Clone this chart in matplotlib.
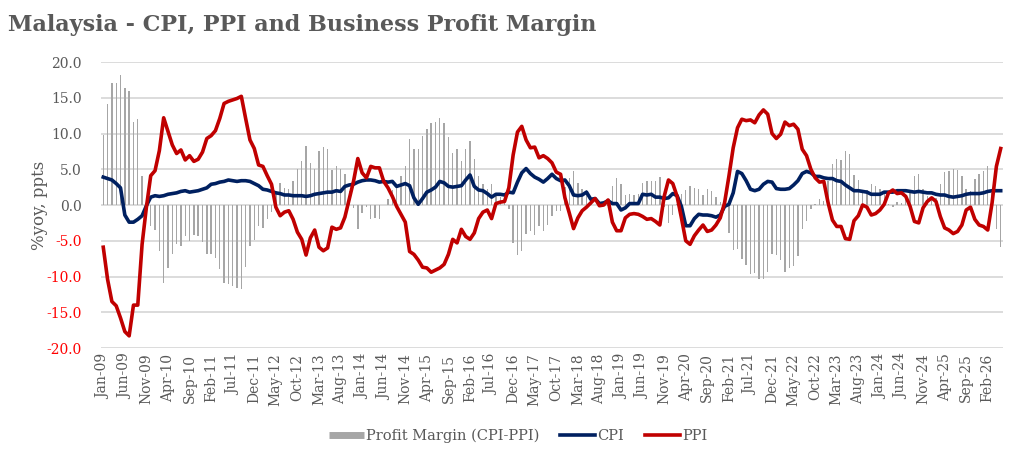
import numpy as np
import pandas as pd
import matplotlib
matplotlib.use("Agg")
import matplotlib.pyplot as plt
from matplotlib.lines import Line2D

plt.rcParams['font.family'] = ['DejaVu Serif']

# monthly, Jan-09 .. May-26
months = pd.date_range('2009-01-01', periods=209, freq='MS').strftime('%b-%y').tolist()

cpi = [3.9, 3.7, 3.5, 3.0, 2.4, -1.4, -2.4, -2.4, -2.0, -1.5, -0.1, 1.1,
       1.3, 1.2, 1.3, 1.5, 1.6, 1.7, 1.9, 2.0, 1.8, 1.9, 2.0, 2.2,
       2.4, 2.9, 3.0, 3.2, 3.3, 3.5, 3.4, 3.3, 3.4, 3.4, 3.3, 3.0,
       2.7, 2.2, 2.1, 1.9, 1.7, 1.6, 1.4, 1.4, 1.3, 1.3, 1.3, 1.2,
       1.3, 1.5, 1.6, 1.7, 1.8, 1.8, 2.0, 1.9, 2.6, 2.8, 2.9, 3.2,
       3.4, 3.5, 3.5, 3.4, 3.2, 3.3, 3.2, 3.3, 2.6, 2.8, 3.0, 2.7,
       1.0, 0.1, 0.9, 1.8, 2.1, 2.5, 3.3, 3.1, 2.6, 2.5, 2.6, 2.7,
       3.5, 4.2, 2.6, 2.1, 2.0, 1.6, 1.1, 1.5, 1.5, 1.4, 1.8, 1.7,
       3.2, 4.5, 5.1, 4.4, 3.9, 3.6, 3.2, 3.7, 4.3, 3.7, 3.4, 3.5,
       2.7, 1.4, 1.3, 1.4, 1.8, 0.8, 0.9, 0.2, 0.3, 0.6, 0.2, 0.2,
       -0.7, -0.4, 0.2, 0.2, 0.2, 1.5, 1.4, 1.5, 1.1, 1.1, 0.9, 1.0,
       1.6, 1.3, -0.2, -2.9, -2.9, -1.9, -1.3, -1.4, -1.4, -1.5, -1.7, -1.4,
       -0.2, 0.1, 1.7, 4.7, 4.4, 3.4, 2.2, 2.0, 2.2, 2.9, 3.3, 3.2,
       2.3, 2.2, 2.2, 2.3, 2.8, 3.4, 4.4, 4.7, 4.5, 4.0, 4.0, 3.8,
       3.7, 3.7, 3.4, 3.3, 2.8, 2.4, 2.0, 2.0, 1.9, 1.8, 1.5, 1.5,
       1.5, 1.8, 1.8, 1.8, 2.0, 2.0, 2.0, 1.9, 1.8, 1.9, 1.8, 1.7,
       1.7, 1.5, 1.4, 1.4, 1.2, 1.1, 1.2, 1.3, 1.5, 1.6, 1.6, 1.6,
       1.7, 1.9, 2.0, 2.0, 2.0]

ppi = [-5.9, -10.4, -13.5, -14.1, -15.8, -17.7, -18.3, -14.0, -14.0, -5.5, -0.3, 4.1,
       4.8, 7.6, 12.2, 10.3, 8.4, 7.2, 7.7, 6.3, 6.9, 6.1, 6.4, 7.4,
       9.3, 9.7, 10.4, 12.1, 14.2, 14.5, 14.7, 14.9, 15.2, 12.1, 9.1, 7.9,
       5.6, 5.4, 4.1, 2.9, -0.3, -1.5, -1.0, -0.8, -2.0, -3.8, -4.8, -7.0,
       -4.6, -3.5, -5.9, -6.4, -6.0, -3.1, -3.4, -3.2, -1.7, 0.8, 3.3, 6.5,
       4.5, 3.8, 5.4, 5.2, 5.2, 3.3, 2.4, 1.2, -0.2, -1.3, -2.4, -6.5,
       -6.9, -7.7, -8.7, -8.8, -9.4, -9.1, -8.8, -8.3, -6.9, -4.8, -5.3, -3.4,
       -4.4, -4.8, -3.9, -1.9, -1.0, -0.7, -1.9, 0.2, 0.4, 0.5, 2.4, 7.0,
       10.2, 11.0, 9.1, 8.0, 8.1, 6.6, 6.9, 6.5, 5.9, 4.6, 4.3, 1.0,
       -1.1, -3.3, -1.8, -0.8, -0.3, 0.3, 0.9, -0.1, 0.0, 0.7, -2.4, -3.6,
       -3.6, -1.8, -1.3, -1.2, -1.3, -1.6, -2.0, -1.9, -2.3, -2.8, 1.2, 3.5,
       3.0, 1.2, -1.8, -5.0, -5.5, -4.3, -3.5, -2.8, -3.7, -3.5, -2.8, -1.8,
       0.3, 4.0, 8.0, 10.8, 12.0, 11.8, 11.9, 11.5, 12.6, 13.3, 12.7, 10.0,
       9.3, 9.9, 11.6, 11.1, 11.3, 10.6, 7.8, 6.9, 5.0, 3.8, 3.2, 3.3,
       0.3, -2.1, -3.0, -3.0, -4.7, -4.8, -2.2, -1.5, 0.0, -0.3, -1.4, -1.2,
       -0.7, 0.1, 1.7, 2.1, 1.6, 1.7, 1.2, -0.2, -2.3, -2.5, -0.4, 0.5,
       1.0, 0.5, -1.6, -3.2, -3.5, -4.0, -3.7, -2.8, -0.7, -0.3, -2.0, -2.8,
       -3.0, -3.5, 0.3, 5.4, 7.9]

# profit margin (CPI-PPI)
margin = [9.8, 14.1, 17.0, 17.1, 18.2, 16.3, 15.9, 11.6, 12.0, 4.0, 0.2, -3.0,
          -3.5, -6.4, -10.9, -8.8, -6.8, -5.5, -5.8, -4.3, -5.1, -4.2, -4.4, -5.2,
          -6.9, -6.8, -7.4, -8.9, -10.9, -11.0, -11.3, -11.6, -11.8, -8.7, -5.8, -4.9,
          -2.9, -3.2, -2.0, -1.0, 2.0, 3.1, 2.4, 2.2, 3.3, 5.1, 6.1, 8.2,
          5.9, 5.0, 7.5, 8.1, 7.8, 4.9, 5.4, 5.1, 4.3, 2.0, -0.4, -3.3,
          -1.1, -0.3, -1.9, -1.8, -2.0, 0.0, 0.8, 2.1, 2.8, 4.1, 5.4, 9.2,
          7.9, 7.8, 9.6, 10.6, 11.5, 11.6, 12.1, 11.4, 9.5, 7.3, 7.9, 6.1,
          7.9, 9.0, 6.5, 4.0, 3.0, 2.3, 3.0, 1.3, 1.1, 0.9, -0.6, -5.3,
          -7.0, -6.5, -4.0, -3.6, -4.2, -3.0, -3.7, -2.8, -1.6, -0.9, -0.9, 2.5,
          3.8, 4.7, 3.1, 2.2, 2.1, 0.5, 0.0, 0.3, 0.3, -0.1, 2.6, 3.8,
          2.9, 1.4, 1.5, 1.4, 1.5, 3.1, 3.4, 3.4, 3.4, 3.9, -0.3, -2.5,
          -1.4, 0.1, 1.6, 2.1, 2.6, 2.4, 2.2, 1.4, 2.3, 2.0, 1.1, 0.4,
          -0.5, -3.9, -6.3, -6.1, -7.6, -8.4, -9.7, -9.5, -10.4, -10.4, -9.4, -6.8,
          -7.0, -7.7, -9.4, -8.8, -8.5, -7.2, -3.4, -2.2, -0.5, 0.2, 0.8, 0.5,
          3.4, 5.8, 6.4, 6.3, 7.5, 7.2, 4.2, 3.5, 1.9, 2.1, 2.9, 2.7,
          2.2, 1.7, 0.1, -0.3, 0.4, 0.3, 0.8, 2.1, 4.1, 4.4, 2.2, 1.2,
          0.7, 1.0, 3.0, 4.6, 4.7, 5.1, 4.9, 4.1, 2.2, 1.9, 3.6, 4.4,
          4.7, 5.4, 1.7, -3.4, -5.9]

grey_txt = '#595959'
x = np.arange(len(months))

fig = plt.figure(figsize=(10.22, 4.61), dpi=100)
ax = fig.add_axes([0.0988, 0.2451, 0.8826, 0.6204])

ax.bar(x, margin, width=0.32, color='#a6a6a6', zorder=2, label='Profit Margin (CPI-PPI)')
ax.plot(x, cpi, color='#002060', lw=2.6, zorder=3, label='CPI')
ax.plot(x, ppi, color='#c00000', lw=2.6, zorder=4, label='PPI')

ax.set_ylim(-20, 20)
ax.set_xlim(-0.53, 208.53)
yt = np.arange(-20, 20.1, 5)
ax.set_yticks(yt)
ax.set_yticklabels([f'{v:.1f}' for v in yt])
for lab, v in zip(ax.get_yticklabels(), yt):
    lab.set_color('#ff0000' if v < 0 else grey_txt)
ax.grid(axis='y', color='#d9d9d9', lw=1.3, zorder=0)
ax.set_axisbelow(True)
for s in ax.spines.values():
    s.set_visible(False)
ax.tick_params(axis='y', length=0, pad=14, labelsize=10)
ax.set_xticks(x[::5])
ax.set_xticklabels(months[::5], rotation=90, fontsize=10, color=grey_txt)
ax.tick_params(axis='x', length=0, pad=4)
ax.set_ylabel('%yoy, ppts', fontsize=12, color=grey_txt, labelpad=-1)

fig.text(0.008, 0.945, 'Malaysia - CPI, PPI and Business Profit Margin',
         fontsize=16, fontweight='bold', color=grey_txt, va='center')

handles = [Line2D([], [], color='#a6a6a6', lw=5, solid_capstyle='butt'),
           Line2D([], [], color='#002060', lw=2.6),
           Line2D([], [], color='#c00000', lw=2.6)]
fig.legend(handles, ['Profit Margin (CPI-PPI)', 'CPI', 'PPI'], loc='center',
           bbox_to_anchor=(0.507, 0.054), ncol=3, frameon=False, fontsize=10.5,
           handlelength=2.4, handletextpad=0.15, columnspacing=1.4,
           labelcolor=grey_txt)

fig.savefig('out.png', dpi=100)
